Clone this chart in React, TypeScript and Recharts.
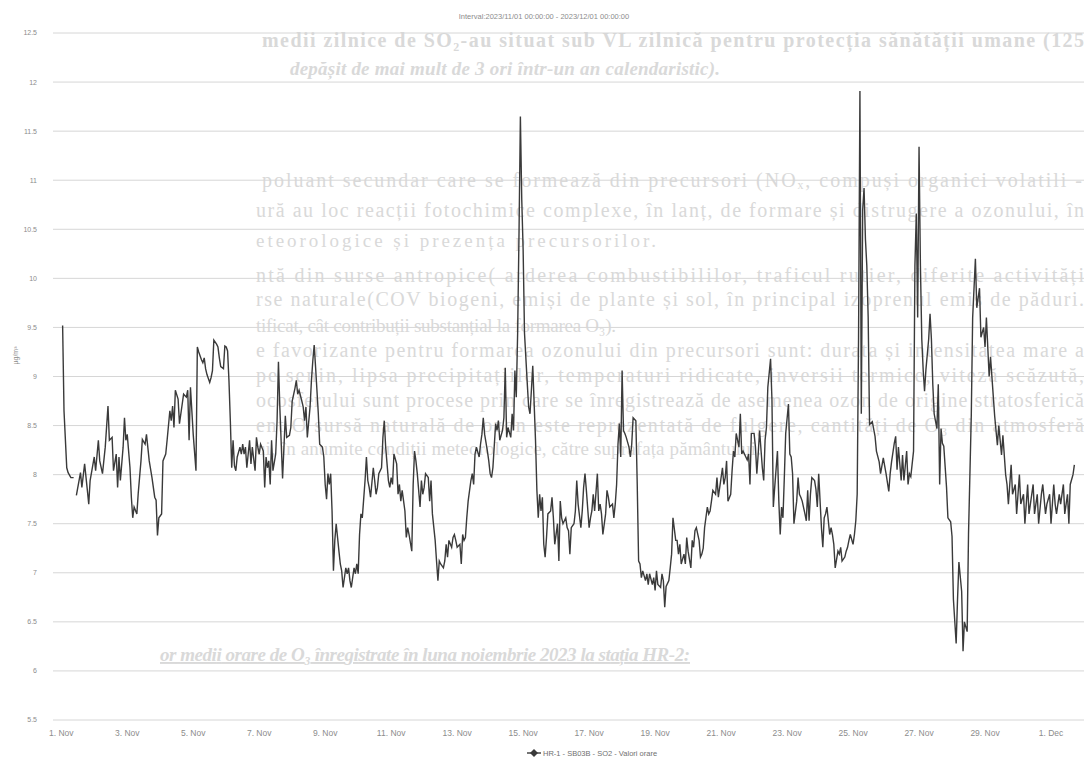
import React from 'react';
import { LineChart, Line, XAxis, YAxis, CartesianGrid } from 'recharts';

// hours since 2023-11-01 00:00, hourly SO2 (µg/m³)
const readingsNov1to5: [number, number | null][] = [
  [1, 9.52], [2, 8.65], [4, 8.07], [5, 8.02], [7, 7.97], [9, 7.97], [10, null], [11, 7.79], [14, 8.02], [15, 7.87],
  [17, 8.11], [19, 7.84], [20, 7.7], [21, 7.94], [24, 8.18], [25, 8.04], [27, 8.35], [28, 8.14], [30, 8.01], [32, 8.28],
  [34, 8.7], [35, 8.35], [37, 8.38], [38, 8.04], [40, 8.21], [41, 7.87], [42, 8.18], [43, 7.94], [45, 8.28], [46, 8.58],
  [47, 8.35], [48, 8.41], [50, 8.07], [51, 7.77], [52, 7.56], [53, 7.67], [55, 7.6], [56, 7.81], [58, 8.14], [59, 8.36],
  [61, 8.31], [62, 8.41], [64, 8.14], [66, 7.97], [68, 7.77], [69, 7.74], [70, 7.38], [71, 7.56], [73, 7.6], [74, 8.14],
  [76, 8.21], [77, 8.35], [79, 8.65], [80, 8.55], [81, 8.7], [82, 8.48], [83, 8.86], [85, 8.77], [86, 8.52], [88, 8.72],
  [89, 8.82], [91, 8.79], [92, 8.86], [93, 8.35], [94, 8.89], [96, 8.41], [98, 8.04], [99, 9.3], [100, 9.25], [102, 9.17],
  [103, 9.14], [104, 9.19], [105, 9.08], [106, 9.02], [108, 8.94], [109, 8.99], [110, 9.06], [111, 9.37], [113, 9.33],
  [114, 9.3], [115, 9.19], [116, 9.1], [118, 9.08], [119, 9.31],
];

const readingsNov6to10: [number, number | null][] = [
  [120, 9.3], [121, 9.26], [122, 8.96], [123, 8.55], [124, 8.07], [125, 8.35], [126, 8.09], [127, 8.04], [128, 8.18],
  [130, 8.28], [131, 8.21], [132, 8.31], [133, 8.21], [134, 8.28], [135, 8.07], [137, 8.35], [138, 8.11], [139, 8.28],
  [141, 8.04], [142, 8.38], [143, 8.28], [144, 8.21], [145, 8.31], [147, 8.24], [148, 7.87], [149, 8.18], [150, 8.07],
  [151, 8.14], [152, 7.9], [153, 8.35], [154, 8.04], [156, 8.21], [157, 8.55], [158, 9.15], [159, 8.69], [161, 7.96],
  [162, 8.28], [163, 8.6], [164, 8.38], [166, 8.4], [167, 8.48], [168, 8.75], [170, 8.88], [171, 8.96], [172, 8.82],
  [173, 8.86], [175, 8.75], [176, 8.69], [177, 8.55], [178, 8.69], [179, 8.38], [181, 8.69], [182, 8.96], [183, 9.16],
  [184, 9.32], [185, 9.1], [187, 8.62], [188, 8.31], [190, 8.28], [191, 8.18], [192, 7.9], [193, 7.75], [194, 8.01],
  [195, 7.9], [196, 8.01], [197, 7.63], [198, 7.02], [199, 7.33], [200, 7.5], [202, 7.22], [203, 7.09], [204, 7.02],
  [205, 6.85], [207, 7.05], [208, 6.99], [209, 7.05], [210, 6.92], [211, 6.85], [213, 7.05], [214, 6.99], [215, 7.09],
  [216, 6.99], [217, 7.39], [218, 7.6], [219, 7.56], [221, 7.94], [222, 8.18], [223, 7.94], [224, 7.87], [225, 7.77],
  [227, 8.07], [228, 7.94], [229, 7.8], [230, 7.87], [231, 8.01], [233, 8.07], [234, 8.38], [235, 8.55], [236, 8.28],
  [238, 7.94], [239, 7.87],
];

const readingsNov11to15: [number, number | null][] = [
  [240, 7.97], [241, 7.9], [242, 8.21], [244, 8.11], [245, 7.8], [246, 7.9], [247, 7.73], [248, 7.84], [250, 7.63],
  [251, 7.36], [252, 7.46], [253, 7.39], [255, 7.22], [256, 7.9], [257, 8.24], [258, 8.14], [259, 8.01], [261, 7.67],
  [262, 7.94], [263, 7.8], [264, 7.87], [265, 8.01], [267, 7.97], [268, 7.73], [269, 7.94], [270, 7.6], [272, 7.33],
  [273, 7.12], [274, 6.92], [275, 7.12], [276, 7.09], [278, 7.05], [279, 7.12], [280, 7.29], [281, 7.16], [282, 7.33],
  [284, 7.26], [285, 7.36], [286, 7.39], [287, 7.33], [288, 7.26], [290, 7.29], [291, 7.09], [292, 7.39], [293, 7.33],
  [294, 7.36], [295, 7.56], [296, 7.73], [298, 7.94], [299, 8.01], [300, 7.9], [301, 8.21], [302, 8.28], [304, 8.18],
  [305, 8.31], [306, 8.41], [307, 8.58], [308, 8.41], [310, 8.24], [311, 8.14], [312, 8.01], [313, 7.97], [314, 8.07],
  [316, 8.52], [317, 8.45], [318, 8.55], [319, 8.35], [321, 8.45], [322, 8.58], [323, 9.09], [324, 8.38], [325, 8.48],
  [327, 8.38], [328, 8.62], [329, 8.45], [330, 9.06], [331, 8.79], [332, 9.44], [333, 10.46], [334, 11.65], [335, 10.8],
  [336, 10.29], [337, 9.44], [339, 8.93], [340, 8.69], [341, 8.62], [342, 8.86], [343, 9.11], [345, 8.35], [346, 7.84],
  [347, 7.56], [348, 7.8], [349, 7.63], [350, 7.77], [351, 7.29], [352, 7.16], [353, 7.36], [354, 7.6], [356, 7.63],
  [357, 7.77], [358, 7.56], [359, 7.29],
];

const readingsNov16to20: [number, number | null][] = [
  [361, 7.5], [362, 7.12], [363, 7.73], [364, 7.56], [365, 7.5], [367, 7.56], [368, 7.46], [369, 7.43], [370, 7.19],
  [371, 7.46], [373, 7.5], [374, 7.63], [375, 7.94], [376, 7.7], [378, 7.46], [379, 7.63], [380, 7.87], [381, 8.01],
  [382, 7.84], [384, 7.46], [385, 7.56], [386, 7.63], [387, 7.8], [388, 7.63], [390, 8.01], [391, 7.63], [392, 7.7],
  [393, 7.6], [394, 7.39], [396, 7.6], [397, 7.84], [398, 7.77], [399, 7.67], [401, 7.7], [402, 7.56], [403, 7.7],
  [404, 7.9], [405, 8.31], [406, 8.52], [407, 8.18], [408, 9.06], [409, 8.45], [410, 8.42], [411, 8.38], [413, 8.28],
  [414, 8.18], [415, 8.31], [416, 8.58], [418, 8.55], [419, 7.9], [420, 7.12], [421, 7.09], [422, 6.95], [423, 7.02],
  [425, 6.92], [426, 6.99], [427, 6.88], [428, 6.99], [430, 6.88], [431, 6.95], [432, 6.82], [433, 7.02], [434, 6.88],
  [436, 6.85], [437, 6.99], [438, 6.92], [439, 6.65], [440, 6.86], [442, 6.92], [443, 7.05], [444, 7.19], [445, 7.56],
  [447, 7.33], [448, 7.33], [449, 7.19], [450, 7.29], [451, 7.09], [453, 7.19], [454, 7.09], [455, 7.36], [456, 7.22],
  [458, 7.05], [459, 7.33], [460, 7.26], [461, 7.43], [462, 7.46], [464, 7.33], [465, 7.16], [466, 7.19], [467, 7.25],
  [468, 7.46], [470, 7.67], [471, 7.6], [472, 7.63], [473, 7.73], [474, 7.84], [476, 7.8], [477, 7.97], [478, 7.77],
  [479, 7.87],
];

const readingsNov21to25: [number, number | null][] = [
  [481, 8.07], [482, 7.9], [483, 7.97], [484, 8.14], [485, 7.73], [487, 7.8], [488, 8.04], [489, 8.24], [490, 8.18],
  [491, 8.42], [493, 8.28], [494, 8.62], [495, 8.21], [496, 8.24], [498, 8.18], [499, 8.15], [500, 8.21], [501, 7.9],
  [502, 8.42], [504, 8.42], [505, 8.28], [506, 8.01], [507, 8.21], [508, 8.45], [510, 8.07], [511, 7.94], [512, 8.35],
  [513, 8.48], [514, 8.89], [516, 9.18], [517, 8.76], [518, 7.67], [519, 7.87], [521, 8.24], [522, 7.73], [523, 7.39],
  [524, 7.67], [525, 7.56], [526, 7.97], [527, 8.42], [529, 8.72], [530, 8.21], [531, 8.18], [532, 8.01], [533, 7.5],
  [535, 7.73], [536, 7.97], [537, 7.8], [538, 7.77], [539, 7.73], [541, 7.6], [542, 7.53], [543, 7.84], [544, 7.53],
  [545, 7.8], [546, 7.97], [548, 7.94], [549, 7.85], [550, 7.67], [551, 8.01], [553, 7.46], [554, 7.26], [555, 7.56],
  [556, 7.6], [557, 7.67], [559, 7.39], [560, 7.46], [561, 7.39], [562, 7.29], [563, 7.05], [565, 7.22], [566, 7.19],
  [567, 7.26], [568, 7.12], [570, 7.16], [571, 7.22], [572, 7.26], [573, 7.33], [574, 7.39], [576, 7.29], [577, 7.39],
  [578, 7.53], [579, 7.8], [580, 9.4], [581, 11.91], [582, 8.62], [583, 10.7], [584, 10.92], [585, 10.4], [586, 10.13],
  [587, 9.6], [588, 8.51], [590, 8.54], [592, 8.39], [593, 8.24], [595, 8.13], [596, 8.01], [598, 8.17], [599, 8.09],
];

const readingsNov26to30: [number, number | null][] = [
  [600, 8.01], [602, 7.83], [603, 8.01], [604, 8.13], [606, 8.32], [607, 8.39], [608, 8.05], [609, 8.28], [611, 7.94],
  [612, 8.2], [613, 7.94], [615, 8.24], [616, 7.9], [617, 8.01], [618, 7.98], [620, 8.24], [621, 10.13], [622, 10.66],
  [623, 9.6], [624, 11.34], [625, 10.13], [626, 9.38], [627, 9.07], [628, 8.85], [629, 9.07], [631, 9.38], [632, 9.64],
  [633, 9.38], [634, 8.92], [635, 8.62], [637, 8.47], [638, 8.92], [639, 7.9], [640, 8.47], [641, 8.32], [642, 8.29],
  [644, 7.87], [645, 7.56], [647, 7.52], [648, 7.37], [649, 6.73], [651, 6.28], [652, 6.73], [653, 7.11], [655, 6.81],
  [656, 6.2], [657, 6.5], [659, 6.4], [660, 7.4], [662, 8.6], [663, 9.6], [665, 10.2], [666, 9.7], [668, 9.9], [669, 9.4],
  [671, 9.5], [672, 9.3], [673, 9.6], [675, 9.0], [676, 9.2], [678, 8.8], [679, 8.6], [681, 8.3], [682, 8.5], [684, 8.2],
  [685, 8.4], [687, 8.0], [688, 7.9], [689, 7.7], [691, 8.1], [692, 7.8], [694, 7.9], [695, 7.6], [697, 8.0], [698, 7.7],
  [700, 7.8], [701, 7.5], [703, 7.9], [704, 7.6], [705, 7.7], [707, 7.9], [708, 7.6], [710, 7.8], [711, 7.5], [713, 7.8],
  [714, 7.9], [716, 7.6], [717, 7.7], [719, 7.8], [720, 7.5], [722, 7.9], [723, 7.7], [724, 7.6], [726, 7.8], [727, 7.7],
  [729, 7.9], [730, 7.6], [732, 7.8], [733, 7.5], [734, 7.9], [736, 8.0], [737, 8.1],
];

const xTickHours = [0, 48, 96, 144, 192, 240, 288, 336, 384, 432, 480, 528, 576, 624, 672, 720];
const xTickLabels = ['1. Nov', '3. Nov', '5. Nov', '7. Nov', '9. Nov', '11. Nov', '13. Nov', '15. Nov', '17. Nov',
  '19. Nov', '21. Nov', '23. Nov', '25. Nov', '27. Nov', '29. Nov', '1. Dec'];
const yTicks = [5.5, 6, 6.5, 7, 7.5, 8, 8.5, 9, 9.5, 10, 10.5, 11, 11.5, 12, 12.5];

const chartTitle = 'Interval:2023/11/01 00:00:00 - 2023/12/01 00:00:00';
const seriesName = 'HR-1 - SB03B - SO2 - Valori orare';
const yAxisTitle = 'µg/m³';

// faint text of the scanned page showing through
const ghostLines: { text: string; x: number; y: number; w?: number; bold?: boolean; italic?: boolean; underline?: boolean }[] = [
  { text: 'medii zilnice de SO₂-au situat sub VL zilnică pentru protecția sănătății umane (125', x: 262, y: 47, w: 822, bold: true },
  { text: 'depășit de mai mult de 3 ori într-un an calendaristic).', x: 290, y: 75, w: 430, bold: true, italic: true },
  { text: 'poluant secundar care se formează din precursori (NOₓ, compuși organici volatili -', x: 262, y: 187, w: 820 },
  { text: 'ură au loc reacții fotochimice complexe, în lanț, de formare și distrugere a ozonului, în', x: 256, y: 217, w: 828 },
  { text: 'eteorologice și prezența precursorilor.', x: 256, y: 247, w: 400 },
  { text: 'ntă din surse antropice( arderea combustibililor, traficul rutier, diferite activități', x: 256, y: 282, w: 828 },
  { text: 'rse naturale(COV biogeni, emiși de plante și sol, în principal izoprenul emis de păduri.', x: 256, y: 306, w: 828 },
  { text: 'tificat, cât contribuții substanțial la formarea O₃).', x: 256, y: 332, w: 360 },
  { text: 'e favorizante pentru formarea ozonului din precursori sunt: durata și intensitatea mare a', x: 256, y: 357, w: 828 },
  { text: 'pe senin, lipsa precipitațiilor, temperaturi ridicate, inversii termice, viteză scăzută,', x: 256, y: 382, w: 828 },
  { text: 'ocosferului sunt procese prin care se înregistrează de asemenea ozon de origine stratosferică', x: 256, y: 407, w: 828 },
  { text: 'ent O sursă naturală de ozon este reprezentată de fulgere, cantități de O₃ din atmosferă', x: 256, y: 432, w: 828 },
  { text: 'ui, în anumite condiții meteorologice, către suprafața pământului.', x: 256, y: 455, w: 505 },
  { text: 'or medii orare de O₃ înregistrate în luna noiembrie 2023 la stația HR-2:', x: 160, y: 661, w: 530, bold: true, italic: true, underline: true },
];

const allReadings = [
  ...readingsNov1to5, ...readingsNov6to10, ...readingsNov11to15,
  ...readingsNov16to20, ...readingsNov21to25, ...readingsNov26to30,
];
const data = allReadings.map(([hour, value]) => ({ hour, value }));

const sansFont = '"Liberation Sans", Arial, sans-serif';

export default function App() {
  const labelFor = (h: number) => xTickLabels[xTickHours.indexOf(h)] ?? '';
  return (
    <div style={{ position: 'absolute', left: 0, top: 0, width: 1088, height: 760, background: '#fff', overflow: 'hidden' }}>
      <svg width={1088} height={760} style={{ position: 'absolute', left: 0, top: 0 }}>
        {ghostLines.map((g, i) => (
          <text
            key={i}
            x={g.x}
            y={g.y}
            textLength={g.w}
            lengthAdjust="spacing"
            fontFamily='"Liberation Serif", "DejaVu Serif", serif'
            fontSize={g.w && g.w < 600 ? 19 : 20}
            fontWeight={g.bold ? 'bold' : 'normal'}
            fontStyle={g.italic ? 'italic' : 'normal'}
            fill="#d9d9d9"
            textDecoration={g.underline ? 'underline' : undefined}
          >
            {g.text}
          </text>
        ))}
      </svg>
      <div style={{ position: 'absolute', left: 0, top: 0 }}>
        <LineChart width={1088} height={760} data={data} margin={{ top: 33, right: 4, bottom: 10, left: 0 }}>
          <CartesianGrid vertical={false} stroke="#d6d6d6" strokeWidth={1} />
          <XAxis
            dataKey="hour"
            type="number"
            domain={[-6, 744]}
            ticks={xTickHours}
            interval={0}
            allowDataOverflow
            tickFormatter={labelFor}
            axisLine={false}
            tickLine={false}
            height={30}
            tickMargin={4}
            tick={{ fontSize: 8.5, fill: '#8c8c8c', fontFamily: sansFont }}
          />
          <YAxis
            type="number"
            domain={[5.5, 12.5]}
            ticks={yTicks}
            interval={0}
            allowDataOverflow
            axisLine={false}
            tickLine={false}
            width={53}
            tickMargin={10}
            tickFormatter={(v: number) => String(v)}
            tick={{ fontSize: 7, fill: '#8c8c8c', fontFamily: sansFont }}
          />
          <Line
            type="linear"
            dataKey="value"
            stroke="#3a3a3a"
            strokeWidth={1.4}
            dot={false}
            isAnimationActive={false}
            connectNulls={false}
          />
        </LineChart>
      </div>
      <div style={{ position: 'absolute', left: 0, top: 12, width: 1088, textAlign: 'center', fontFamily: sansFont, fontSize: 7.5, color: '#8c8c8c' }}>
        {chartTitle}
      </div>
      <div style={{ position: 'absolute', left: 4, top: 357, width: 22, height: 0, fontFamily: sansFont, fontSize: 7, color: '#8c8c8c' }}>
        <div style={{ position: 'absolute', left: 0, top: -5, width: 40, marginLeft: -9, textAlign: 'center', transform: 'rotate(-90deg)' }}>
          {yAxisTitle}
        </div>
      </div>
      <div style={{ position: 'absolute', left: 527, top: 748, display: 'flex', alignItems: 'center', fontFamily: sansFont, fontSize: 7.5, color: '#707070' }}>
        <svg width={14} height={10} style={{ marginRight: 2 }}>
          <line x1={0} y1={5} x2={14} y2={5} stroke="#3a3a3a" strokeWidth={1.4} />
          <path d="M7 1 L11 5 L7 9 L3 5 Z" fill="#3a3a3a" />
        </svg>
        <span>{seriesName}</span>
      </div>
    </div>
  );
}
